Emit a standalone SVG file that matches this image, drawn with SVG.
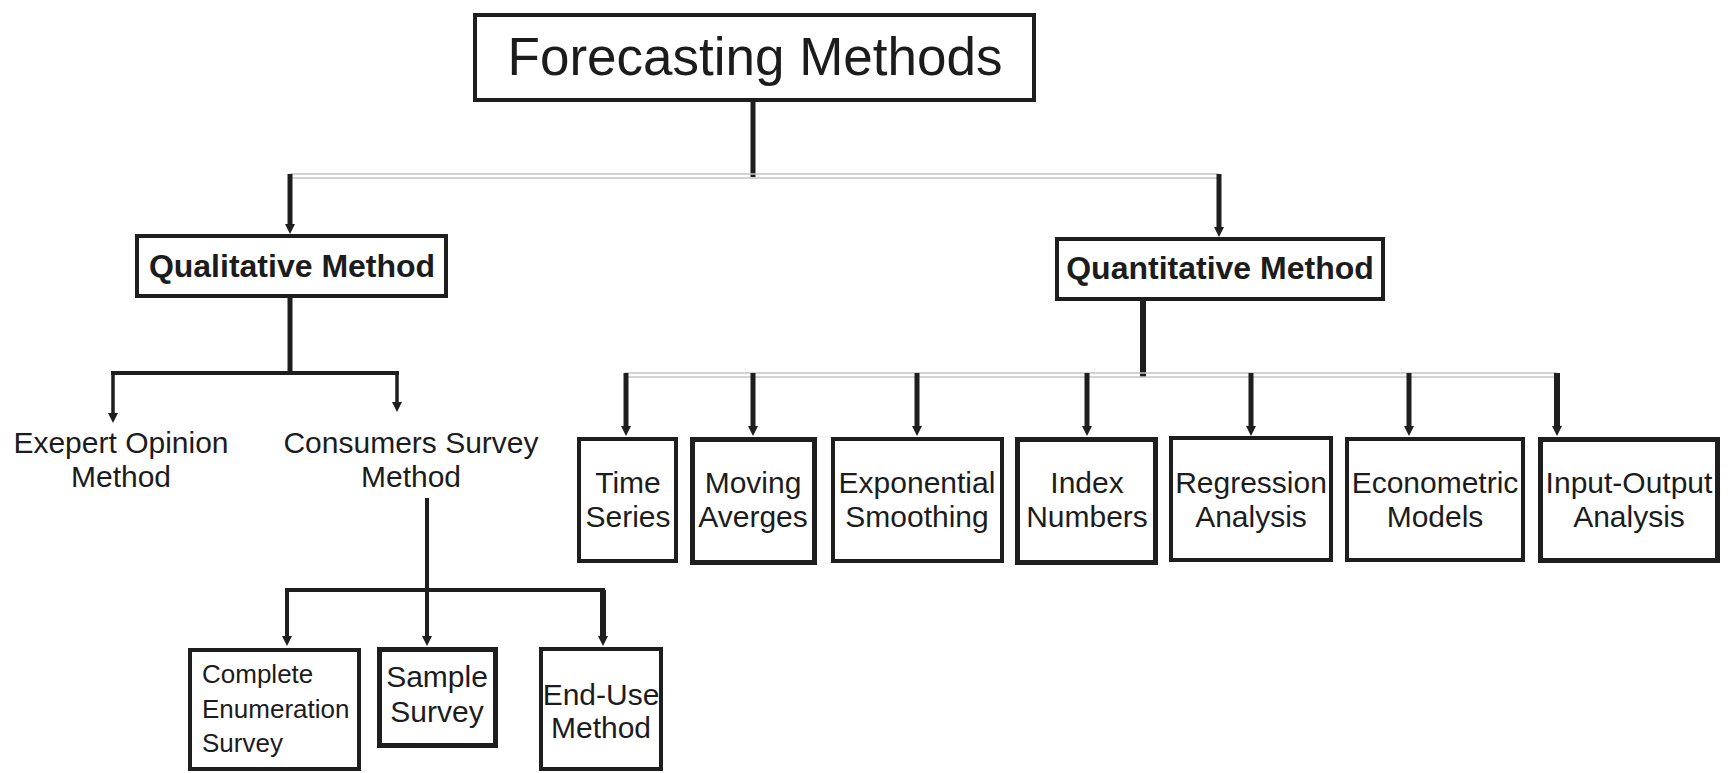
<svg xmlns="http://www.w3.org/2000/svg" width="1733" height="773" viewBox="0 0 1733 773">
<style>
.box{fill:#fff;stroke:#1e1e1e;stroke-width:4}
.thick{stroke-width:5}
.t{font-family:"Liberation Sans",Arial,sans-serif;font-size:30px;fill:#1c1c1c;text-anchor:middle}
.b{font-weight:bold;font-size:32px}
.sm{font-size:26px;text-anchor:start}
.ln{stroke:#1e1e1e;fill:none;stroke-linecap:butt}
.grey{stroke:#c4c4c4;stroke-width:1.5;fill:none}
</style>
<defs>
<marker id="ah" markerUnits="userSpaceOnUse" markerWidth="12" markerHeight="12" refX="2" refY="5" orient="auto">
<path d="M0,0 L10,5 L0,10 z" fill="#1e1e1e"/>
</marker>
</defs>
<rect width="1733" height="773" fill="#fff"/>
<g id="connectors">
<line class="ln" x1="753" y1="102" x2="753" y2="177" stroke-width="5"/>
<line class="grey" x1="290" y1="174" x2="1219" y2="174"/>
<line class="grey" x1="290" y1="178" x2="1219" y2="178"/>
<line class="ln" x1="290" y1="174" x2="290" y2="226" stroke-width="5" marker-end="url(#ah)"/>
<line class="ln" x1="1219" y1="174" x2="1219" y2="229" stroke-width="5" marker-end="url(#ah)"/>
<line class="ln" x1="290" y1="298" x2="290" y2="375" stroke-width="5"/>
<line class="ln" x1="111" y1="373" x2="399" y2="373" stroke-width="4"/>
<line class="ln" x1="113" y1="373" x2="113" y2="415" stroke-width="3.5" marker-end="url(#ah)"/>
<line class="ln" x1="397" y1="373" x2="397" y2="404" stroke-width="3.5" marker-end="url(#ah)"/>
<line class="ln" x1="427" y1="498" x2="427" y2="638" stroke-width="4" marker-end="url(#ah)"/>
<line class="ln" x1="285" y1="590" x2="605" y2="590" stroke-width="4"/>
<line class="ln" x1="287" y1="590" x2="287" y2="638" stroke-width="4" marker-end="url(#ah)"/>
<line class="ln" x1="603" y1="590" x2="603" y2="638" stroke-width="6" marker-end="url(#ah)"/>
<line class="ln" x1="1143" y1="301" x2="1143" y2="377" stroke-width="6"/>
<line class="grey" x1="625" y1="373" x2="1557" y2="373"/>
<line class="grey" x1="625" y1="377" x2="1557" y2="377"/>
<line class="ln" x1="626" y1="373" x2="626" y2="428" stroke-width="5" marker-end="url(#ah)"/>
<line class="ln" x1="753" y1="373" x2="753" y2="428" stroke-width="5" marker-end="url(#ah)"/>
<line class="ln" x1="917" y1="373" x2="917" y2="428" stroke-width="5" marker-end="url(#ah)"/>
<line class="ln" x1="1087" y1="373" x2="1087" y2="428" stroke-width="5" marker-end="url(#ah)"/>
<line class="ln" x1="1251" y1="373" x2="1251" y2="428" stroke-width="5" marker-end="url(#ah)"/>
<line class="ln" x1="1409" y1="373" x2="1409" y2="428" stroke-width="5" marker-end="url(#ah)"/>
<line class="ln" x1="1557" y1="373" x2="1557" y2="428" stroke-width="6" marker-end="url(#ah)"/>
</g>
<g id="forecasting-methods">
<rect class="box" x="475" y="15" width="559" height="85"/>
<text class="t" x="755" y="75" style="font-size:53px">Forecasting Methods</text>
</g>
<g id="qualitative-method">
<rect class="box" x="137" y="236" width="309" height="60"/>
<text class="t b" x="292" y="277">Qualitative Method</text>
</g>
<g id="quantitative-method">
<rect class="box" x="1057" y="239" width="326" height="60"/>
<text class="t b" x="1220" y="279">Quantitative Method</text>
</g>
<g id="expert-opinion">
<text class="t" x="121" y="453">Exepert Opinion</text>
<text class="t" x="121" y="487">Method</text>
</g>
<g id="consumers-survey">
<text class="t" x="411" y="453">Consumers Survey</text>
<text class="t" x="411" y="487">Method</text>
</g>
<g id="complete-enumeration">
<rect class="box" x="190" y="650" width="169" height="119"/>
<text class="t sm" x="202" y="683">Complete</text>
<text class="t sm" x="202" y="718">Enumeration</text>
<text class="t sm" x="202" y="752">Survey</text>
</g>
<g id="sample-survey">
<rect class="box thick" x="379.5" y="649.5" width="116" height="96"/>
<text class="t" x="437" y="687">Sample</text>
<text class="t" x="437" y="722">Survey</text>
</g>
<g id="end-use">
<rect class="box" x="541" y="649" width="120" height="120"/>
<text class="t" x="601" y="705">End-Use</text>
<text class="t" x="601" y="738">Method</text>
</g>
<g id="time-series">
<rect class="box" x="579" y="439" width="97" height="122"/>
<text class="t" x="628" y="493">Time</text>
<text class="t" x="628" y="527">Series</text>
</g>
<g id="moving-averges">
<rect class="box thick" x="692.5" y="439.5" width="122" height="123"/>
<text class="t" x="753" y="493">Moving</text>
<text class="t" x="753" y="527">Averges</text>
</g>
<g id="exponential-smoothing">
<rect class="box" x="833" y="439" width="169" height="122"/>
<text class="t" x="917" y="493">Exponential</text>
<text class="t" x="917" y="527">Smoothing</text>
</g>
<g id="index-numbers">
<rect class="box thick" x="1017.5" y="439.5" width="138" height="123"/>
<text class="t" x="1087" y="493">Index</text>
<text class="t" x="1087" y="527">Numbers</text>
</g>
<g id="regression-analysis">
<rect class="box" x="1171" y="438" width="160" height="122"/>
<text class="t" x="1251" y="493">Regression</text>
<text class="t" x="1251" y="527">Analysis</text>
</g>
<g id="econometric-models">
<rect class="box" x="1347" y="439" width="176" height="121"/>
<text class="t" x="1435" y="493">Econometric</text>
<text class="t" x="1435" y="527">Models</text>
</g>
<g id="input-output-analysis">
<rect class="box thick" x="1540.5" y="439.5" width="177" height="121"/>
<text class="t" x="1629" y="493">Input-Output</text>
<text class="t" x="1629" y="527">Analysis</text>
</g>
</svg>
